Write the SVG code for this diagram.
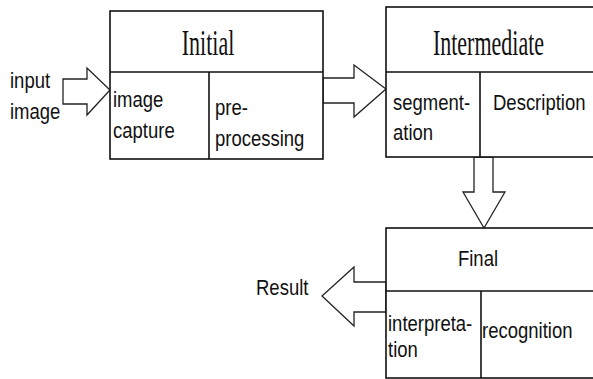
<svg xmlns="http://www.w3.org/2000/svg" width="593" height="379" viewBox="0 0 593 379">
<style>
.box{fill:#fff;stroke:#111;stroke-width:1.6}
.ln{stroke:#111;stroke-width:1.6;fill:none}
.arr{fill:#fff;stroke:#222;stroke-width:1.3;stroke-linejoin:miter}
.ser{font-family:"Liberation Serif",serif;font-size:22px;fill:#111;text-anchor:middle}
.sans{font-family:"Liberation Sans",Arial,sans-serif;font-size:18.5px;fill:#111}
.mid{text-anchor:middle}
</style>
<rect width="593" height="379" fill="#fff"/>
<g id="connectors">
<polygon class="arr" points="63,79 87,79 87,68 110,90 87,115 87,104 63,104"/>
<polygon class="arr" points="323,78 354,78 354,65 386,89 354,117 354,103 323,103"/>
<polygon class="arr" points="474,157 474,192 463,192 484,228 505,192 493,192 493,157"/>
<polygon class="arr" points="386,282 354,282 354,267 322,296 354,326 354,312 386,312"/>
</g>
<g id="input-label">
<text class="sans" transform="translate(10,88) scale(1,1.15)">input</text>
<text class="sans" transform="translate(10,119) scale(1,1.15)">image</text>
</g>
<g id="initial">
<rect class="box" x="110" y="11" width="213" height="148"/>
<line class="ln" x1="110" y1="72" x2="323" y2="72"/>
<line class="ln" x1="209" y1="72" x2="209" y2="159"/>
<text class="ser" transform="translate(208,55) scale(1,1.6)">Initial</text>
<text class="sans" transform="translate(113,107) scale(1,1.15)">image</text>
<text class="sans" transform="translate(113,138) scale(1,1.15)">capture</text>
<text class="sans" transform="translate(215,115) scale(1,1.15)">pre-</text>
<text class="sans" transform="translate(215,146) scale(1,1.15)">processing</text>
</g>
<g id="intermediate">
<rect class="box" x="386" y="7" width="212" height="150"/>
<line class="ln" x1="386" y1="72" x2="598" y2="72"/>
<line class="ln" x1="480" y1="72" x2="480" y2="157"/>
<text class="ser" transform="translate(488.5,55) scale(1,1.6)">Intermediate</text>
<text class="sans" transform="translate(393,110) scale(1,1.15)">segment-</text>
<text class="sans" transform="translate(393,140) scale(1,1.15)">ation</text>
<text class="sans" transform="translate(493,110) scale(1,1.15)">Description</text>
</g>
<g id="final">
<rect class="box" x="386" y="228" width="212" height="150"/>
<line class="ln" x1="386" y1="291" x2="598" y2="291"/>
<line class="ln" x1="481" y1="291" x2="481" y2="378"/>
<text class="sans mid" transform="translate(478,266) scale(1,1.15)">Final</text>
<text class="sans" transform="translate(388,331) scale(1,1.15)">interpreta-</text>
<text class="sans" transform="translate(388,357) scale(1,1.15)">tion</text>
<text class="sans" transform="translate(482,338) scale(1,1.15)">recognition</text>
</g>
<g id="result-label">
<text class="sans" transform="translate(256,295) scale(1,1.15)">Result</text>
</g>
</svg>
